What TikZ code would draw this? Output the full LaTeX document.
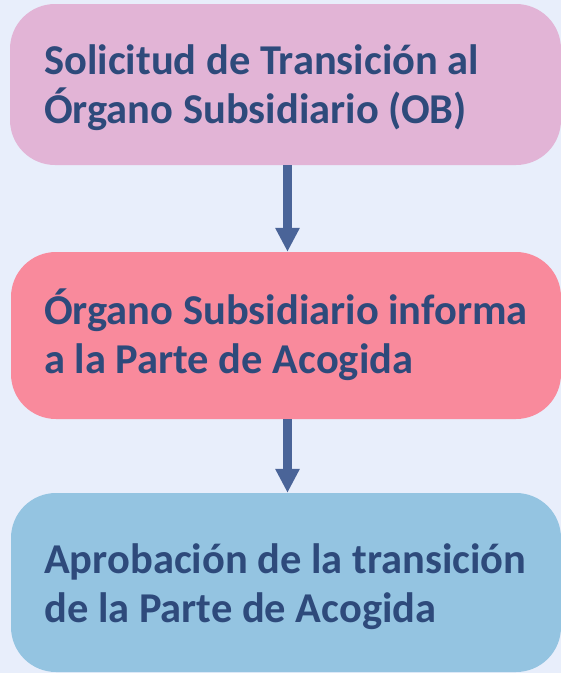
\documentclass[tikz,border=0pt]{standalone}
\usepackage{fontspec}
\setmainfont{Carlito}
\usetikzlibrary{arrows.meta}
\definecolor{bg}{HTML}{E8EEFB}
\definecolor{boxA}{HTML}{E2B4D6}
\definecolor{boxB}{HTML}{F98A9C}
\definecolor{boxC}{HTML}{94C4E1}
\definecolor{txt}{HTML}{2E4A7B}
\definecolor{arr}{HTML}{4A6498}
\begin{document}
\begin{tikzpicture}[x=1pt,y=-1pt,
  box/.style={rounded corners=45pt, inner sep=0pt, draw=none},
  lbl/.style={anchor=base west, inner sep=0pt, align=left, text=txt,
    font=\bfseries\fontsize{42.5}{49}\selectfont},
  flow/.style={draw=arr, line width=9pt, -{Triangle[width=23pt,length=24pt]}}
]
\fill[bg] (0,0) rectangle (561,673);
\useasboundingbox (0,0) rectangle (561,673);
\node[box, fill=boxA, minimum width=551pt, minimum height=161pt] (A) at (285.5,84.5) {};
\node[box, fill=boxB, minimum width=550pt, minimum height=167pt] (B) at (286,335.5) {};
\node[box, fill=boxC, minimum width=550pt, minimum height=179pt] (C) at (286,582.5) {};
\node[lbl] (tA) at (44,123) {Solicitud de Transición al\\Órgano Subsidiario (OB)};
\node[lbl] (tB) at (44,373) {Órgano Subsidiario informa\\a la Parte de Acogida};
\node[lbl] (tC) at (44,622) {Aprobación de la transición\\de la Parte de Acogida};
\draw[flow] ([xshift=2pt]A.south) -- ([xshift=1.5pt]B.north);
\draw[flow] ([xshift=1.5pt]B.south) -- ([xshift=1.5pt]C.north);
\end{tikzpicture}
\end{document}
